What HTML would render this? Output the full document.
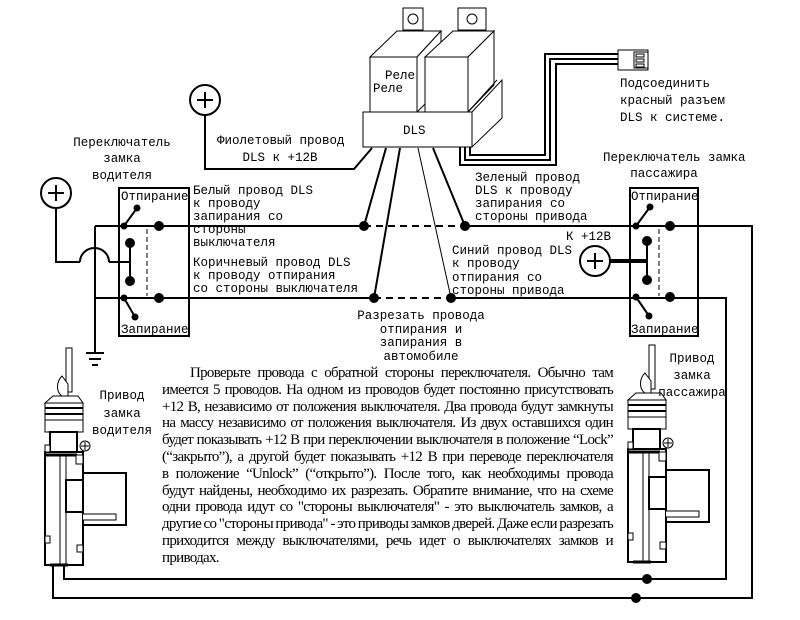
<!DOCTYPE html>
<html><head><meta charset="utf-8"><style>
html,body{margin:0;padding:0;background:#fff;}
.wrap{position:relative;width:800px;height:620px;overflow:hidden;}
svg{position:absolute;left:0;top:0;}
.lbl{font-family:"Liberation Mono","DejaVu Sans Mono",monospace;font-size:12.5px;fill:#000;}
.txt{position:absolute;left:162px;top:365px;width:451px;font-family:"Liberation Serif","DejaVu Serif",serif;font-size:15px;line-height:16.8px;color:#000;letter-spacing:-0.7px;word-spacing:-1px;}
.txt div{text-align:justify;text-align-last:justify;white-space:nowrap;overflow:visible;}
.txt div.last{text-align-last:left;}
</style></head><body><div class="wrap">
<svg width="800" height="620" viewBox="0 0 800 620" fill="none" stroke="#000">
<g stroke-width="1" fill="#fff">
 <rect x="403" y="8" width="20" height="22"/><circle cx="413" cy="19" r="5"/>
 <rect x="458" y="8" width="28" height="22"/><circle cx="472" cy="19" r="5"/>
 <polygon points="370,57 397,31 441,31 417,57"/>
 <polygon points="417,57 441,31 441,88 417,112"/>
 <rect x="370" y="57" width="47" height="55"/>
 <polygon points="425,57 453,31 494,31 468,57"/>
 <polygon points="468,57 494,31 494,85 468,112"/>
 <rect x="425" y="57" width="43" height="55"/>
 <polygon points="472,112 502,80 502,118 472,147"/>
 <line x1="468" y1="112" x2="497" y2="80"/>
 <rect x="363" y="112" width="109" height="35"/>
</g>
<g stroke-width="2">
 <polyline points="460,147 460,165 556,165 556,64 620,64"/>
 <polyline points="465,147 465,160 550,160 550,59 620,59"/>
 <polyline points="470,147 470,155 545,155 545,54 620,54"/>
</g>
<rect x="618" y="50" width="30" height="20" stroke-width="1" fill="#fff"/>
<rect x="634" y="52" width="14" height="16" stroke-width="1"/>
<g stroke-width="1"><rect x="636" y="54" width="8" height="3"/><rect x="636" y="59" width="8" height="3"/><rect x="636" y="64" width="8" height="3"/></g>
<g stroke-width="2">
 <polyline points="372,148 354,169 205,169 205,115"/>
 <line x1="386" y1="148" x2="364" y2="226"/>
 <line x1="400" y1="148" x2="374" y2="298"/>
 <line x1="433" y1="148" x2="465" y2="226"/>
</g>
<line x1="418" y1="148" x2="451" y2="298" stroke-width="1"/>
<g stroke-width="2">
 <circle cx="205" cy="100" r="15"/><line x1="197" y1="100" x2="213" y2="100"/><line x1="205" y1="92" x2="205" y2="108"/>
 <circle cx="56" cy="193" r="15"/><line x1="48" y1="193" x2="64" y2="193"/><line x1="56" y1="185" x2="56" y2="201"/>
 <circle cx="595" cy="261" r="15"/><line x1="587" y1="261" x2="603" y2="261"/><line x1="595" y1="253" x2="595" y2="269"/>
</g>
<g stroke-width="2">
 <polyline points="56,208 56,262 80,262"/>
 <path d="M80,262 A14.5,14 0 0 1 109,262"/>
 <line x1="109" y1="262" x2="130" y2="262"/>
 <line x1="95" y1="226" x2="364" y2="226"/>
 <line x1="95" y1="298" x2="374" y2="298"/>
 <line x1="95" y1="226" x2="95" y2="353"/>
 <line x1="86" y1="353" x2="104" y2="353"/><line x1="89" y1="359" x2="101" y2="359"/><line x1="92" y1="365" x2="98" y2="365"/>
 <line x1="364" y1="226" x2="465" y2="226" stroke-dasharray="7,5"/>
 <line x1="374" y1="298" x2="451" y2="298" stroke-dasharray="7,5"/>
 <polyline points="465,226 752,226 752,598 53,598 53,565"/>
 <polyline points="451,298 726,298 726,579 64,579 64,565"/>
 <rect x="119" y="188" width="70" height="148"/>
 <rect x="630" y="188" width="68" height="148"/>
 <line x1="124" y1="226" x2="137" y2="208"/>
 <line x1="124" y1="298" x2="135" y2="317"/>
 <line x1="130" y1="243" x2="130" y2="281"/>
 <line x1="636" y1="226" x2="650" y2="207"/>
 <line x1="636" y1="297" x2="649" y2="316"/>
 <line x1="647" y1="241" x2="647" y2="280"/>
</g>
<line x1="610" y1="261" x2="647" y2="261" stroke-width="4"/>
<g stroke-width="1" stroke-dasharray="5,3">
 <line x1="147" y1="229" x2="147" y2="296"/>
 <line x1="659" y1="229" x2="659" y2="296"/>
</g>
<g fill="#000" stroke="none">
 <circle cx="364" cy="226" r="5"/><circle cx="374" cy="298" r="5"/>
 <circle cx="465" cy="226" r="5"/><circle cx="451" cy="298" r="5"/>
 <circle cx="159" cy="226" r="5"/><circle cx="159" cy="298" r="5"/>
 <circle cx="130" cy="243" r="5"/><circle cx="130" cy="281" r="5"/>
 <circle cx="137" cy="208" r="3.5"/><circle cx="135" cy="317" r="3.5"/><circle cx="124" cy="226" r="3.5"/><circle cx="124" cy="298" r="3.5"/>
 <circle cx="670" cy="226" r="5"/><circle cx="670" cy="297" r="5"/>
 <circle cx="647" cy="241" r="5"/><circle cx="647" cy="280" r="5"/>
 <circle cx="650" cy="207" r="3.5"/><circle cx="649" cy="316" r="3.5"/><circle cx="636" cy="226" r="3.5"/><circle cx="636" cy="297" r="3.5"/>
 <circle cx="647" cy="579" r="5"/><circle cx="636" cy="598" r="5"/>
</g>
<g id="act" stroke-width="1" fill="#fff">
 <rect x="66" y="348" width="6" height="44"/>
 <path d="M62,376 C56,382 56,392 62,396 L68,396 L68,384 Z"/>
 <polygon points="53,396 78,396 83,403 45,403"/>
 <rect x="45" y="403" width="38" height="17"/>
 <line x1="45" y1="408" x2="83" y2="408" stroke-width="2"/><line x1="45" y1="414" x2="83" y2="414" stroke-width="2"/>
 <polygon points="45,420 83,420 83,432 45,432"/>
 <rect x="50" y="432" width="27" height="20" stroke-width="2"/>
 <circle cx="85" cy="446" r="5"/><line x1="81" y1="446" x2="89" y2="446"/><line x1="85" y1="442" x2="85" y2="450"/>
 <rect x="45" y="452" width="38" height="113" stroke-width="2"/>
 <rect x="45" y="445" width="5" height="7"/>
 <line x1="45" y1="455" x2="77" y2="455" stroke-width="3"/>
 <line x1="60" y1="455" x2="60" y2="565"/><line x1="66" y1="455" x2="66" y2="565"/>
 <rect x="66" y="480" width="17" height="32" stroke-width="2"/>
 <rect x="83" y="473" width="43" height="52" stroke-width="2"/>
 <polyline points="83,514 116,514 116,520 83,520"/>
 <rect x="76" y="455" width="7" height="9"/>
 <rect x="45" y="536" width="5" height="7"/><rect x="77" y="545" width="6" height="7"/>
 <line x1="50" y1="565" x2="68" y2="565" stroke-width="3"/>
</g>
<use href="#act" x="583" y="-3"/>
<g class="lbl" stroke="none">
 <text x="385" y="79">Реле</text><text x="373" y="92">Реле</text>
 <text x="403" y="134">DLS</text>
 <text x="122" y="146" text-anchor="middle">Переключатель</text>
 <text x="122" y="162" text-anchor="middle">замка</text>
 <text x="122" y="179" text-anchor="middle">водителя</text>
 <text x="217" y="144">Фиолетовый провод</text>
 <text x="280" y="161" text-anchor="middle">DLS к +12В</text>
 <text x="193" y="194">Белый провод DLS</text>
 <text x="193" y="207">к  проводу</text>
 <text x="193" y="220">запирания со</text>
 <text x="193" y="233">стороны</text>
 <text x="193" y="246">выключателя</text>
 <text x="193" y="266">Коричневый провод DLS</text>
 <text x="193" y="279">к  проводу отпирания</text>
 <text x="193" y="292">со стороны выключателя</text>
 <text x="421" y="319" text-anchor="middle">Разрезать провода</text>
 <text x="421" y="333" text-anchor="middle">отпирания и</text>
 <text x="421" y="346" text-anchor="middle">запирания в</text>
 <text x="421" y="360" text-anchor="middle">автомобиле</text>
 <text x="475" y="181">Зеленый провод</text>
 <text x="475" y="194">DLS к  проводу</text>
 <text x="475" y="207">запирания со</text>
 <text x="475" y="220">стороны привода</text>
 <text x="452" y="254">Синий провод DLS</text>
 <text x="452" y="267">к  проводу</text>
 <text x="452" y="281">отпирания со</text>
 <text x="452" y="294">стороны привода</text>
 <text x="566" y="240">К +12В</text>
 <text x="620" y="87">Подсоединить</text>
 <text x="620" y="104">красный разъем</text>
 <text x="620" y="121">DLS к системе.</text>
 <text x="603" y="161">Переключатель замка</text>
 <text x="664" y="177" text-anchor="middle">пассажира</text>
 <text x="121" y="200">Отпирание</text>
 <text x="121" y="333">Запирание</text>
 <text x="631" y="200">Отпирание</text>
 <text x="631" y="333">Запирание</text>
 <text x="122" y="399" text-anchor="middle">Привод</text>
 <text x="122" y="417" text-anchor="middle">замка</text>
 <text x="122" y="434" text-anchor="middle">водителя</text>
 <text x="692" y="362" text-anchor="middle">Привод</text>
 <text x="692" y="379" text-anchor="middle">замка</text>
 <text x="692" y="396" text-anchor="middle">пассажира</text>
</g>
</svg>
<div class="txt">
<div style="padding-left:28px">Проверьте провода с обратной стороны переключателя. Обычно там</div>
<div>имеется 5 проводов. На одном из проводов будет постоянно присутствовать</div>
<div>+12 В, независимо от положения выключателя. Два провода будут замкнуты</div>
<div>на массу независимо от положения выключателя. Из двух оставшихся один</div>
<div>будет показывать +12 В при переключении выключателя в положение “Lock”</div>
<div>(“закрыто”), а другой будет показывать +12 В при переводе переключателя</div>
<div>в положение “Unlock” (“открыто”). После того, как необходимы провода</div>
<div>будут найдены, необходимо их разрезать. Обратите внимание, что на схеме</div>
<div>одни провода идут со "стороны выключателя" - это выключатель замков, а</div>
<div>другие со "стороны привода" - это приводы замков дверей. Даже если разрезать</div>
<div>приходится между выключателями, речь идет о выключателях замков и</div>
<div class="last">приводах.</div>
</div>
</div></body></html>
